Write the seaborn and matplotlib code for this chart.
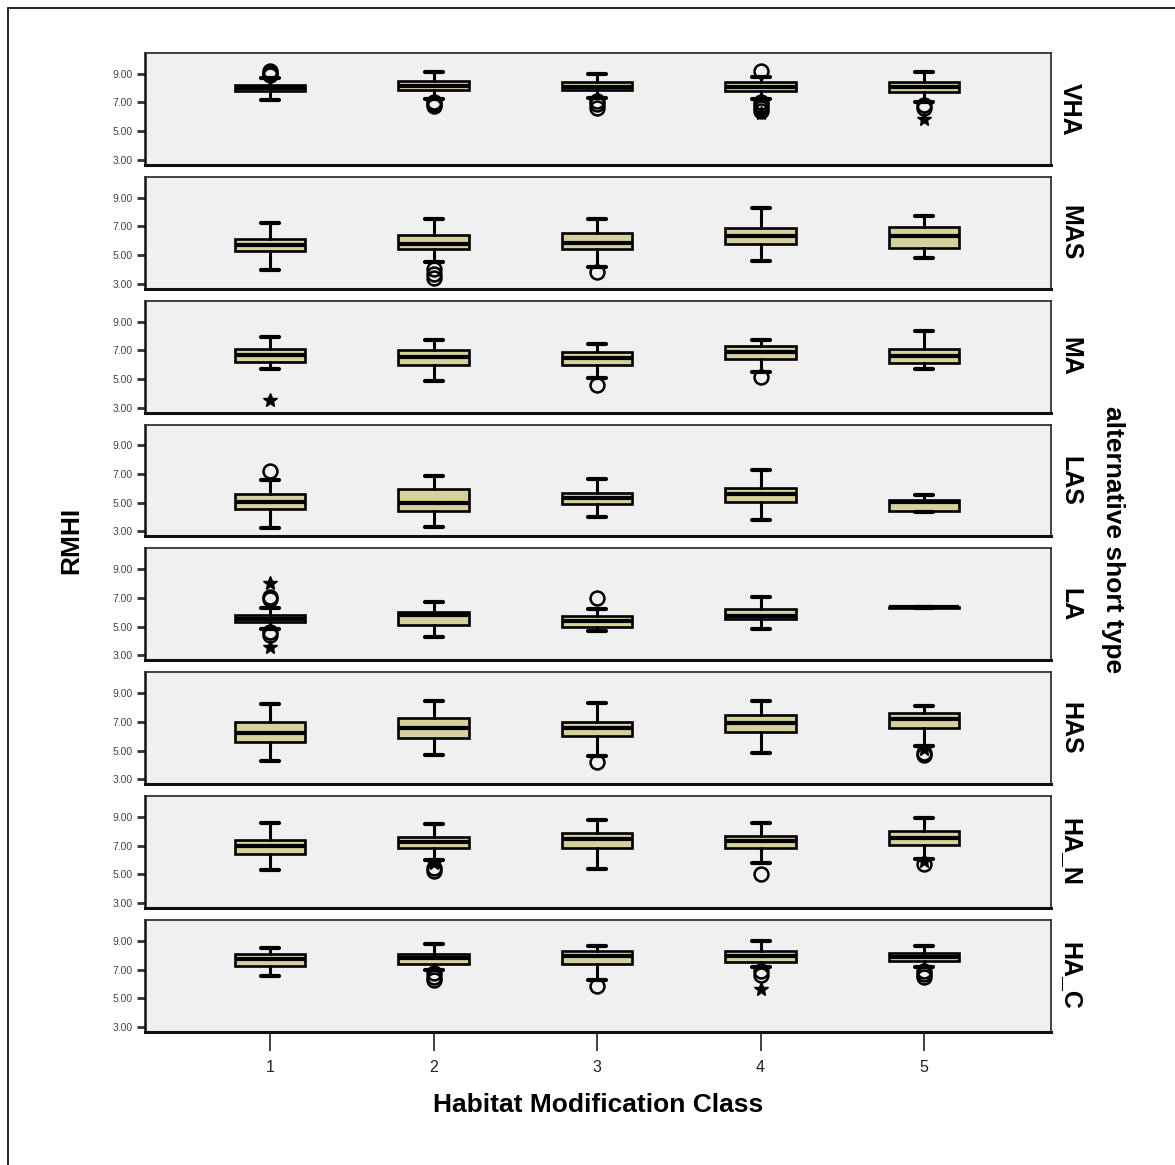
import numpy as np
import pandas as pd
import matplotlib
matplotlib.use("Agg")
import matplotlib.pyplot as plt
from matplotlib.lines import Line2D
import seaborn as sns

# ---------------- data ----------------
types = ["VHA", "MAS", "MA", "LAS", "LA", "HAS", "HA_N", "HA_C"]
classes = ["1", "2", "3", "4", "5"]

q1 = [
    [7.80, 7.85, 7.85, 7.80, 7.70],
    [5.25, 5.40, 5.40, 5.75, 5.49],
    [6.18, 6.00, 6.00, 6.40, 6.10],
    [4.55, 4.45, 4.95, 5.06, 4.45],
    [5.30, 5.12, 4.98, 5.52, 6.30],
    [5.58, 5.85, 6.00, 6.30, 6.60],
    [6.45, 6.85, 6.85, 6.85, 7.07],
    [7.28, 7.42, 7.42, 7.55, 7.60],
]
med = [
    [8.00, 8.15, 8.10, 8.10, 8.05],
    [5.72, 5.80, 5.82, 6.35, 6.35],
    [6.68, 6.52, 6.45, 6.90, 6.60],
    [5.08, 5.00, 5.30, 5.62, 5.05],
    [5.55, 5.78, 5.42, 5.72, 6.35],
    [6.25, 6.58, 6.60, 6.95, 7.18],
    [7.00, 7.25, 7.50, 7.30, 7.57],
    [7.72, 7.78, 7.95, 7.95, 7.85],
]
q3 = [
    [8.25, 8.50, 8.40, 8.40, 8.40],
    [6.15, 6.38, 6.52, 6.90, 6.99],
    [7.12, 7.00, 6.90, 7.32, 7.12],
    [5.58, 5.93, 5.70, 6.00, 5.20],
    [5.82, 6.05, 5.76, 6.20, 6.40],
    [7.00, 7.25, 7.02, 7.50, 7.62],
    [7.37, 7.62, 7.87, 7.71, 8.03],
    [8.06, 8.10, 8.28, 8.30, 8.17],
]
whis_lo = [
    [7.15, 7.25, 7.30, 7.25, 7.00],
    [3.95, 4.55, 4.15, 4.60, 4.80],
    [5.66, 4.88, 5.05, 5.50, 5.66],
    [3.23, 3.30, 4.03, 3.80, 4.35],
    [4.86, 4.30, 4.70, 4.82, 6.30],
    [4.28, 4.70, 4.60, 4.80, 5.30],
    [5.28, 6.00, 5.39, 5.80, 6.05],
    [6.55, 6.95, 6.30, 7.20, 7.15],
]
whis_hi = [
    [8.70, 9.10, 9.00, 8.75, 9.10],
    [7.20, 7.50, 7.50, 8.25, 7.75],
    [7.90, 7.73, 7.45, 7.73, 8.35],
    [6.60, 6.90, 6.68, 7.30, 5.52],
    [6.30, 6.75, 6.25, 7.10, 6.40],
    [8.22, 8.42, 8.28, 8.48, 8.10],
    [8.60, 8.50, 8.77, 8.60, 8.95],
    [8.47, 8.75, 8.65, 9.02, 8.63],
]
# outliers (circles)
outliers = [
    [[8.9, 9.05, 9.2], [7.05, 6.9, 6.75], [7.1, 6.9, 6.65], [9.2, 7.05, 6.85, 6.6, 6.4], [6.85, 6.65]],
    [[], [4.05, 3.7, 3.4], [3.85], [], []],
    [[], [], [4.55], [5.1], []],
    [[7.2], [], [], [], []],
    [[7.1, 6.9, 4.6, 4.4], [], [7.0], [], []],
    [[], [], [4.2], [], [4.85, 4.7]],
    [[], [5.45, 5.25], [], [5.05], [5.7]],
    [[], [6.75, 6.5, 6.3], [5.85], [6.9, 6.6], [6.9, 6.7, 6.45]],
]
# extremes (stars)
extremes = [
    [[], [], [], [6.25], [5.85]],
    [[], [], [], [], []],
    [[3.55], [], [], [], []],
    [[], [], [], [], []],
    [[8.05, 3.55], [], [], [], []],
    [[], [], [], [], [5.1]],
    [[], [5.8], [], [], [5.9]],
    [[], [], [], [5.65], []],
]

y_ticks = [3.0, 5.0, 7.0, 9.0]

# ---------------- long table ----------------
rows = []
for i, t in enumerate(types):
    for j, c in enumerate(classes):
        rows.append(dict(type=t, cls=c, q1=q1[i][j], med=med[i][j], q3=q3[i][j],
                         wlo=whis_lo[i][j], whi=whis_hi[i][j],
                         outl=outliers[i][j], ext=extremes[i][j]))
df = pd.DataFrame(rows)

BOX_FILL = "#d6d09c"
PANEL_BG = "#f0f0f0"

sns.set_theme(style="ticks")
plt.rcParams["font.family"] = ["Liberation Sans", "DejaVu Sans"]
plt.rcParams["text.color"] = "black"


def draw_boxes(data, **kws):
    ax = plt.gca()
    stats = []
    for _, r in data.iterrows():
        stats.append(dict(q1=r.q1, med=r.med, q3=r.q3, whislo=r.wlo, whishi=r.whi,
                          fliers=np.array(r.outl, dtype=float)))
    pos = np.arange(len(stats))
    ax.bxp(stats, positions=pos, widths=0.43, capwidths=0.11, patch_artist=True,
           showfliers=True, manage_ticks=False,
           boxprops=dict(facecolor=BOX_FILL, edgecolor="black", linewidth=1.9),
           medianprops=dict(color="black", linewidth=3.0, solid_capstyle="butt"),
           whiskerprops=dict(color="black", linewidth=2.2),
           capprops=dict(color="black", linewidth=3.0),
           flierprops=dict(marker="o", markerfacecolor="none", markeredgecolor="black",
                           markersize=10, markeredgewidth=1.8, linestyle="none"))
    for p, ext in zip(pos, data.ext):
        if len(ext):
            ax.plot([p] * len(ext), ext, linestyle="none", marker="*", color="black",
                    markersize=10)


g = sns.FacetGrid(df, row="type", row_order=types, sharex=True, sharey=True,
                  height=1.4, aspect=8, margin_titles=False)
g.map_dataframe(draw_boxes)
fig = g.figure
fig.set_size_inches(11.75, 11.65)
fig.subplots_adjust(left=0.1234, right=0.8945, top=0.9545, bottom=0.1142, hspace=0.107)
fig.set_dpi(100)

axes = g.axes.flat
for i, ax in enumerate(axes):
    ax.set_title("")
    ax.set_facecolor(PANEL_BG)
    ax.set_xlim(-0.765, 4.777)
    ax.set_ylim(2.65, 10.45)
    ax.set_yticks(y_ticks)
    ax.set_yticklabels([f"{v:.2f}" for v in y_ticks], fontsize=7.5, color="#444444")
    ax.tick_params(axis="y", length=6, width=2, color="#333333", pad=3)
    for side in ["left", "right", "top", "bottom"]:
        ax.spines[side].set_visible(True)
        ax.spines[side].set_color("#333333")
        ax.spines[side].set_linewidth(1.3)
    ax.spines["bottom"].set_linewidth(2.2)
    ax.spines["bottom"].set_color("#111111")
    ax.spines["left"].set_linewidth(1.8)
    ax.spines["left"].set_color("#111111")
    ax.set_xlabel("")
    ax.set_ylabel("")
    ax.text(1.008, 0.5, types[i], transform=ax.transAxes, rotation=-90,
            ha="left", va="center", fontsize=18, fontweight="bold", color="black")
    if i < len(types) - 1:
        ax.tick_params(axis="x", length=0, labelbottom=False)
    else:
        ax.set_xticks(np.arange(len(classes)))
        ax.set_xticklabels(classes, fontsize=11.5, color="#222222")
        ax.tick_params(axis="x", length=14, width=1.3, color="#333333", pad=6,
                       labelbottom=True)

fig.text(0.061, 0.5365, "RMHI", rotation=90, ha="center", va="center",
         fontsize=19, fontweight="bold", color="black")
fig.text(0.947, 0.5365, "alternative short type", rotation=-90, ha="center",
         va="center", fontsize=19, fontweight="bold", color="black")
fig.text(0.509, 0.0515, "Habitat Modification Class", ha="center", va="center",
         fontsize=19, fontweight="bold", color="black")

# outer frame (left and top edges visible)
fig.add_artist(Line2D([0.0064, 0.0064], [0.0, 0.9935], transform=fig.transFigure,
                      color="black", linewidth=1.2))
fig.add_artist(Line2D([0.0064, 1.0], [0.9935, 0.9935], transform=fig.transFigure,
                      color="black", linewidth=1.2))

fig.savefig("out.png", dpi=100, facecolor="white")
